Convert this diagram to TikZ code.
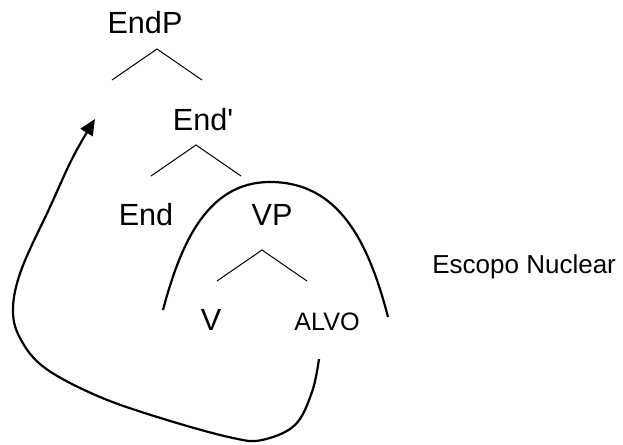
\documentclass[tikz,border=0pt]{standalone}
\usepackage{fontspec}
\setmainfont{Liberation Sans}
\usetikzlibrary{arrows.meta}
\tikzset{
  big/.style={inner sep=0, anchor=base, font=\fontsize{15.3}{18}\selectfont},
  small/.style={inner sep=0, anchor=base, font=\fontsize{12.6}{15}\selectfont},
  branch/.style={line width=0.5pt},
  curve/.style={line width=1.1pt},
}

\begin{document}
\begin{tikzpicture}[x=0.5pt,y=-0.5pt]
\useasboundingbox (0,0) rectangle (623,445);

\node[big] (endp) at (145,33) {EndP};
\node[big] (endbar) at (203,130) {End\textquotesingle};
\node[big] (end) at (146,225) {End};
\node[big] (vp) at (272,225) {VP};
\node[big] (v) at (211,330) {V};
\node[small] (alvo) at (327,330) {ALVO};
\node[small, anchor=base west, font=\fontsize{13}{15}\selectfont] (escopo) at (432,273) {Escopo Nuclear};

\foreach \x/\y in {157/49, 196/145, 262/250}
  \draw[branch] (\x,\y) ++(-45,31) -- (\x,\y) -- ++(45,31);

% nuclear scope
\draw[curve] (163,310) .. controls (181,242) and (208,182) .. (270,182)
  .. controls (338,182) and (368,240) .. (388,317);

% movement
\coordinate (foot) at (319,359);
\coordinate (trace) at (95,119);
\draw[curve, -{Triangle[length=8pt,width=7pt]}] plot[smooth, tension=0.6] coordinates
  {(foot) (312,392) (295,425) (262,440) (233,438) (167,420) (100,397) (45,368)
   (20,338) (13,308) (22,268) (50,207) (73,157) (trace)};
\end{tikzpicture}
\end{document}
